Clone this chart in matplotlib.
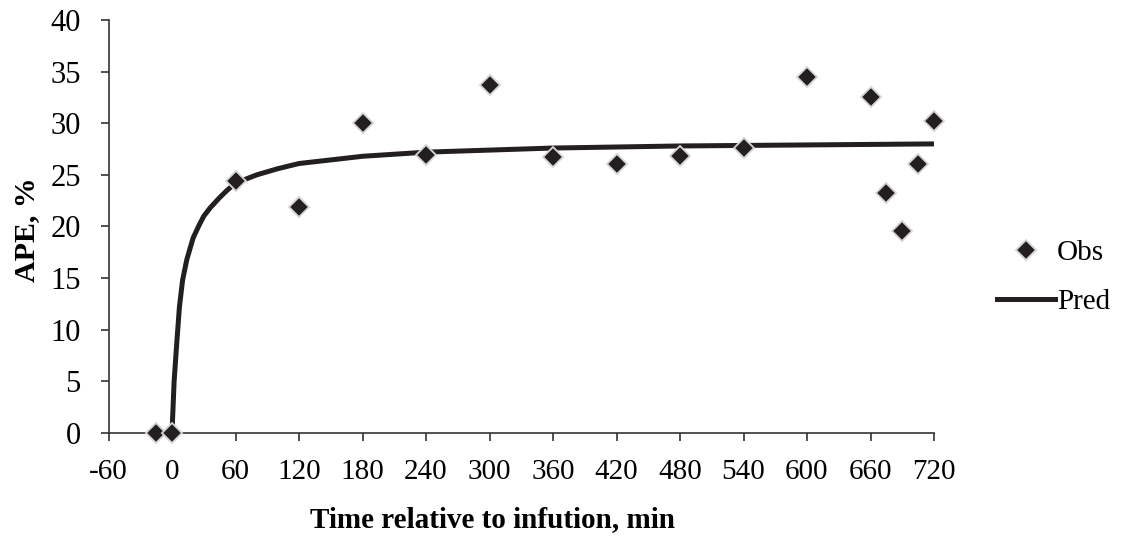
import matplotlib.pyplot as plt
from matplotlib.lines import Line2D

# observed APE values
obs_t = [-15, 0, 60, 120, 180, 240, 300, 360, 420, 480, 540, 600, 660, 675, 690, 705, 720]
obs_ape = [0, 0, 24.4, 21.9, 30.0, 26.9, 33.7, 26.7, 26.1, 26.8, 27.6, 34.5, 32.5, 23.2, 19.6, 26.1, 30.2]

# predicted curve
pred_t = [0, 1, 2, 4, 7, 10, 14, 20, 25, 30, 36, 45, 52, 60, 80, 100, 120, 180, 240,
          300, 360, 420, 480, 540, 600, 660, 720]
pred_ape = [0, 2.5, 5.0, 8.0, 12.2, 14.8, 16.8, 18.9, 20.0, 21.0, 21.8, 22.8, 23.5, 24.2,
            25.0, 25.6, 26.1, 26.8, 27.2, 27.4, 27.6, 27.7, 27.8, 27.85, 27.9, 27.95, 28.0]

xticks = [-60, 0, 60, 120, 180, 240, 300, 360, 420, 480, 540, 600, 660, 720]
yticks = [0, 5, 10, 15, 20, 25, 30, 35, 40]

plt.rcParams['font.family'] = ['Liberation Serif', 'DejaVu Serif']
plt.rcParams['axes.unicode_minus'] = False

W, H = 1121, 538
fig = plt.figure(figsize=(W / 100, H / 100), dpi=100)
ax = fig.add_axes([108.5 / W, 1 - 433 / H, (934 - 108.5) / W, (433 - 20) / H])

ax.plot(pred_t, pred_ape, color='#231f20', lw=3.6, solid_capstyle='butt', zorder=2)
ax.plot(obs_t, obs_ape, linestyle='none', marker='D', markersize=10,
        markerfacecolor='#231f20', markeredgecolor='#d4d4d4', markeredgewidth=1.3,
        zorder=3, clip_on=False)

ax.set_xlim(-60, 720)
ax.set_ylim(0, 40)
ax.set_xticks(xticks)
ax.set_yticks(yticks)
ax.tick_params(axis='both', length=6, width=1.2, color='#333333')
ax.tick_params(axis='x', labelsize=21, pad=12.5)
ax.tick_params(axis='y', labelsize=22, pad=14)

for s in ['top', 'right']:
    ax.spines[s].set_visible(False)
for s in ['left', 'bottom']:
    ax.spines[s].set_color('#333333')
    ax.spines[s].set_linewidth(1.2)

# axis titles
fig.text(492 / W, 1 - 527 / H, 'Time relative to infution, min', fontsize=21,
         fontweight='bold', ha='center', va='baseline')
fig.text(27 / W, 1 - 229.5 / H, 'APE, %', fontsize=21.5, fontweight='bold',
         rotation=90, ha='center', va='center')

handles = [
    Line2D([], [], linestyle='none', marker='D', markersize=10, markerfacecolor='#231f20',
           markeredgecolor='#d4d4d4', markeredgewidth=1.3),
    Line2D([], [], color='#231f20', lw=3.6),
]
fig.legend(handles, ['Obs', 'Pred'], loc='center left', bbox_to_anchor=(997 / W, 1 - 277.5 / H),
           frameon=False, fontsize=21, handlelength=2.0, handletextpad=0.05,
           labelspacing=0.77, borderpad=0, borderaxespad=0)

fig.savefig('out.png', dpi=100)
